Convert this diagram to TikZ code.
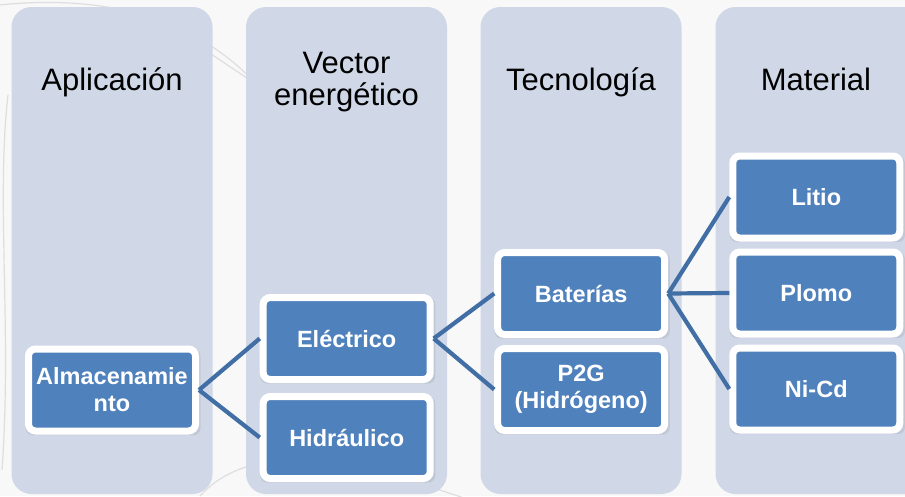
\documentclass[tikz,border=0pt]{standalone}
\usepackage{fontspec}
\setmainfont{Liberation Sans}
\usetikzlibrary{positioning,shadows}
\definecolor{bg-grey}{RGB}{248,248,248}
\definecolor{deco-grey}{RGB}{222,222,222}
\definecolor{col-panel}{RGB}{208,216,232}
\definecolor{box-blue}{RGB}{79,129,189}
\definecolor{link-blue}{RGB}{64,110,165}

\begin{document}
\begin{tikzpicture}[x=1pt,y=-1pt,
    panel/.style={fill=col-panel, rounded corners=20pt},
    head/.style={font=\fontsize{31}{32}\selectfont, align=center, anchor=base},
    box/.style={draw=white, line width=7pt, fill=box-blue, rounded corners=7pt,
        minimum width=167pt, minimum height=82pt, inner sep=1pt, outer sep=3.5pt,
        align=center, text=white, font=\bfseries\fontsize{23.5}{27}\selectfont,
        drop shadow={shadow xshift=1pt, shadow yshift=-2pt, shadow scale=1.05, opacity=0.18}},
    link/.style={link-blue, line width=4.2pt}]
    \useasboundingbox (0,0) rectangle (905,496);
    \fill[bg-grey] (0,0) rectangle (905,496);
    % faint curves behind the columns
    \draw[deco-grey, line width=1.2pt] (-10,6) .. controls (90,-6) and (190,10) .. (260,88);
    \draw[deco-grey, line width=1.2pt] (190,40) -- (250,80);
    \draw[deco-grey, line width=1.2pt] (8,95) .. controls (-4,200) and (12,330) .. (2,470);
    \draw[deco-grey, line width=1.2pt] (200,496) .. controls (260,430) and (380,470) .. (470,500);
    % columns
    \fill[panel] (11.5,7) rectangle (212.5,494);
    \fill[panel] (246,7) rectangle (447,494);
    \fill[panel] (480.5,7) rectangle (681.5,494);
    \fill[panel] (715.5,7) rectangle (930,494);
    \node[head] (hApp) at (112,90) {Aplicación};
    \node[head] (hVec) at (346.5,105) {Vector\\energético};
    \node[head] (hTec) at (581,90) {Tecnología};
    \node[head] (hMat) at (816,90) {Material};
    % boxes
    \node[box] (alm) at (112,390) {Almacenamie\\nto};
    \node[box] (elec) at (346.7,338.5) {Eléctrico};
    \node[box, below=10pt of elec] (hidr) {Hidráulico};
    \node[box] (bat) at (581.2,293.5) {Baterías};
    \node[box, below=7pt of bat] (p2g) {P2G\\(Hidrógeno)};
    \node[box] (litio) at (816.3,197) {Litio};
    \node[box, below=7pt of litio] (plomo) {Plomo};
    \node[box, below=7pt of plomo] (nicd) {Ni-Cd};
    % links
    \draw[link] (alm.east) -- (elec.west);
    \draw[link] (alm.east) -- (hidr.west);
    \draw[link] (elec.east) -- (bat.west);
    \draw[link] (elec.east) -- (p2g.west);
    \draw[link] (bat.east) -- (litio.west);
    \draw[link] (bat.east) -- (plomo.west);
    \draw[link] (bat.east) -- (nicd.west);
\end{tikzpicture}
\end{document}
